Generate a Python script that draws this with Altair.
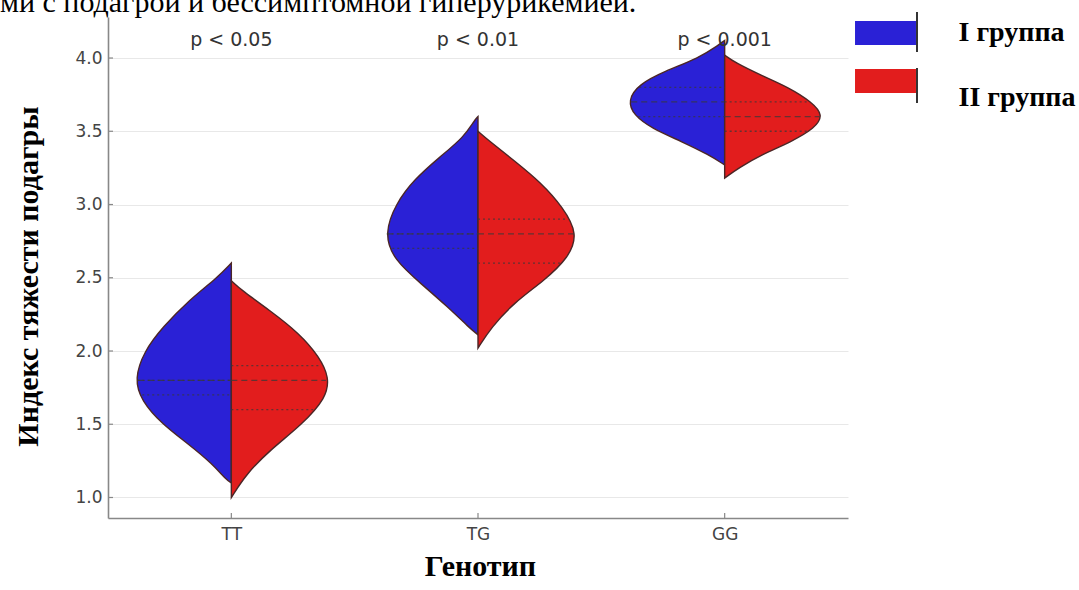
import altair as alt
import pandas as pd
import numpy as np

# ---------------- data ----------------
genotypes = ["TT", "TG", "GG"]
groups = ["I группа", "II группа"]
p_labels = ["p < 0.05", "p < 0.01", "p < 0.001"]
caption = "ми с подагрой и бессимптомной гиперурикемией."

# violin outlines: index value (y) and half-width (in category steps)
tt_1_v = [2.60, 2.50, 2.35, 2.16, 2.00, 1.81, 1.66, 1.50, 1.37, 1.23, 1.12, 1.10]
tt_1_w = [0.0, 0.057, 0.170, 0.280, 0.353, 0.393, 0.365, 0.280, 0.178, 0.077, 0.020, 0.0]
tt_2_v = [2.48, 2.41, 2.28, 2.12, 1.96, 1.82, 1.68, 1.50, 1.32, 1.16, 1.00]
tt_2_w = [0.0, 0.045, 0.154, 0.276, 0.357, 0.397, 0.385, 0.288, 0.154, 0.061, 0.0]

tg_1_v = [3.60, 3.58, 3.46, 3.32, 3.17, 3.01, 2.80, 2.62, 2.46, 2.30, 2.16, 2.11]
tg_1_w = [0.0, 0.012, 0.057, 0.158, 0.259, 0.332, 0.381, 0.340, 0.231, 0.122, 0.036, 0.0]
tg_2_v = [3.50, 3.44, 3.30, 3.15, 2.98, 2.80, 2.64, 2.48, 2.33, 2.16, 2.02]
tg_2_w = [0.0, 0.041, 0.146, 0.255, 0.345, 0.405, 0.369, 0.268, 0.146, 0.053, 0.0]

gg_1_v = [4.12, 4.09, 4.00, 3.91, 3.82, 3.71, 3.61, 3.52, 3.43, 3.34, 3.27]
gg_1_w = [0.0, 0.024, 0.105, 0.243, 0.349, 0.393, 0.369, 0.296, 0.174, 0.065, 0.0]
gg_2_v = [4.02, 3.97, 3.88, 3.80, 3.70, 3.61, 3.52, 3.43, 3.34, 3.25, 3.18]
gg_2_w = [0.0, 0.041, 0.150, 0.259, 0.353, 0.401, 0.365, 0.272, 0.150, 0.057, 0.0]

# quartiles (Q1, median, Q3)
tt_1_q = [1.7, 1.8, 1.8]
tt_2_q = [1.6, 1.8, 1.9]
tg_1_q = [2.7, 2.8, 2.8]
tg_2_q = [2.6, 2.8, 2.9]
gg_1_q = [3.6, 3.7, 3.8]
gg_2_q = [3.5, 3.6, 3.7]

y_ticks = [1.0, 1.5, 2.0, 2.5, 3.0, 3.5, 4.0]

# ---------------- tables ----------------
halves = [
    (0, 0, tt_1_v, tt_1_w, tt_1_q), (0, 1, tt_2_v, tt_2_w, tt_2_q),
    (1, 0, tg_1_v, tg_1_w, tg_1_q), (1, 1, tg_2_v, tg_2_w, tg_2_q),
    (2, 0, gg_1_v, gg_1_w, gg_1_q), (2, 1, gg_2_v, gg_2_w, gg_2_q),
]

rows, qrows = [], []
for gi, side, vals, widths, qs in halves:
    vid = f"{genotypes[gi]}-{side}"
    for v, w in zip(vals, widths):
        if side == 0:
            left, right = gi - w, gi
        else:
            left, right = gi, gi + w
        rows.append({"vid": vid, "group": groups[side], "v": v, "left": left,
                     "right": right})
    for j, q in enumerate(qs):
        wq = float(np.interp(q, vals[::-1], widths[::-1])) * 0.97
        left, right = (gi - wq, gi) if side == 0 else (gi, gi + wq)
        qrows.append({"v": q, "left": left, "right": right,
                      "kind": "median" if j == 1 else "quartile"})

outline_df = pd.DataFrame(rows)
q_df = pd.DataFrame(qrows)
p_df = pd.DataFrame({"pos": [0, 1, 2], "label": p_labels})
ytick_df = pd.DataFrame({"v": y_ticks})
xtick_df = pd.DataFrame({"pos": [0, 1, 2]})

W, H = 740, 501
BLUE, RED = "#2a21d6", "#e21d1d"

x_scale = alt.Scale(domain=[-0.5, 2.5], nice=False, zero=False)
y_scale = alt.Scale(domain=[0.86, 4.28], nice=False, zero=False)

label_expr = "[" + ",".join(f"'{g}'" for g in genotypes) + "][datum.value]"
legend_label_expr = f"datum.label == '{groups[1]}' ? ['', datum.label] : datum.label"

x_axis = alt.Axis(
    values=[0, 1, 2], labelExpr=label_expr, grid=False, tickSize=0,
    labelPadding=8, labelFont="DejaVu Sans", labelFontSize=17, labelColor="#444",
    domainColor="#888", domainWidth=1.6,
    title="Генотип", titleFont="Liberation Serif", titleFontSize=30,
    titleFontWeight="bold", titleColor="black", titleX=372, titleY=48,
    titleBaseline="middle", titleAlign="center",
)
y_axis = alt.Axis(
    values=y_ticks, format=".1f", grid=True, gridColor="#e8e8e8", gridWidth=1,
    tickSize=0, labelPadding=6, labelFont="DejaVu Sans", labelFontSize=17,
    labelColor="#444", domainColor="#888", domainWidth=1.6,
    title="Индекс тяжести подагры", titleFont="Liberation Serif", titleFontSize=30,
    titleFontWeight="bold", titleColor="black", titleX=-80, titleY=259,
    titleAngle=270, titleBaseline="middle", titleAlign="center",
)

violins = alt.Chart(outline_df).mark_area(
    orient="horizontal", interpolate="basis", stroke="#4b2626",
    strokeWidth=1.4, opacity=1,
).encode(
    y=alt.Y("v:Q", scale=y_scale, axis=y_axis),
    x=alt.X("left:Q", scale=x_scale, axis=x_axis, stack=False),
    x2="right:Q",
    color=alt.Color(
        "group:N",
        scale=alt.Scale(domain=groups, range=[BLUE, RED]),
        legend=alt.Legend(
            title=None, orient="none", legendX=763.5, legendY=2,
            symbolType="M-2.54,-1H2.54V1H-2.54Z", symbolSize=576,
            symbolStrokeWidth=0, symbolOpacity=1,
            labelFont="Liberation Serif", labelFontWeight="bold",
            labelFontSize=28, labelColor="black", labelOffset=59,
            labelExpr=legend_label_expr,
            rowPadding=20, padding=0,
        ),
    ),
    detail="vid:N",
)

medians = alt.Chart(q_df).transform_filter(alt.datum.kind == "median").mark_rule(
    color="#3a3a3a", strokeWidth=1.3, strokeDash=[6, 4], opacity=0.75
).encode(y="v:Q", x="left:Q", x2="right:Q")

quarts = alt.Chart(q_df).transform_filter(alt.datum.kind == "quartile").mark_rule(
    color="#3a3a3a", strokeWidth=1.3, strokeDash=[2, 3], opacity=0.75
).encode(y="v:Q", x="left:Q", x2="right:Q")

ptext = alt.Chart(p_df).mark_text(
    font="DejaVu Sans", fontSize=19, color="#333", baseline="alphabetic", align="center"
).encode(x="pos:Q", y=alt.value(29), text="label:N")

yticks = alt.Chart(ytick_df).mark_rule(color="#888", strokeWidth=1.2).encode(
    y="v:Q", x=alt.value(0), x2=alt.value(5))

xticks = alt.Chart(xtick_df).mark_rule(color="#888", strokeWidth=1.2).encode(
    x="pos:Q", y=alt.value(H - 5), y2=alt.value(H))

leg_line1 = alt.Chart(p_df.head(1)).mark_rule(color="black", strokeWidth=1.6).encode(
    x=alt.value(809), y=alt.value(-5), y2=alt.value(35))
leg_line2 = alt.Chart(p_df.head(1)).mark_rule(color="black", strokeWidth=1.6).encode(
    x=alt.value(809), y=alt.value(51), y2=alt.value(86))

top_text = alt.Chart(pd.DataFrame({"t": [caption]})).mark_text(
    font="Liberation Serif", fontSize=30, color="black", align="left",
    baseline="alphabetic",
).encode(x=alt.value(-108), y=alt.value(-5), text="t:N")

chart = alt.layer(
    violins, medians, quarts, ptext, yticks, xticks, leg_line1, leg_line2, top_text
).properties(
    width=W, height=H, autosize="none",
    padding={"left": 108, "top": 17, "right": 231, "bottom": 72},
    background="white",
).configure(
    style={"guide-label": {"lineHeight": 17}}
).configure_view(stroke=None)

chart.save("out.html", embed_options={"renderer": "svg", "actions": False})
